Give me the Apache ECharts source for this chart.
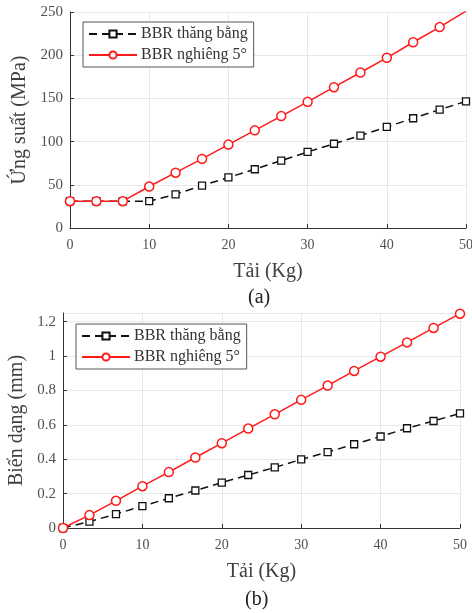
<!DOCTYPE html>
<html><head><meta charset="utf-8">
<script src="https://cdn.jsdelivr.net/npm/echarts@6/dist/echarts.min.js"></script>
<style>html,body{margin:0;padding:0;background:#fff}#c{width:472px;height:613px}</style>
</head><body><div id="c"></div>
<script>
const loads = [0, 3.33, 6.67, 10, 13.33, 16.67, 20, 23.33, 26.67, 30, 33.33, 36.67, 40, 43.33, 46.67, 50];
const stressFlat = [31, 31, 31, 31, 39, 49, 58.5, 68, 78, 88, 97.5, 107, 117, 127, 137, 146.6];
const stressTilt = [31, 31, 31, 48, 64, 80, 96.5, 113, 129.5, 146, 163, 180, 197, 215, 232.5, 251];
const deformFlat = [0, 0.037, 0.081, 0.127, 0.173, 0.218, 0.264, 0.308, 0.352, 0.399, 0.441, 0.487, 0.532, 0.58, 0.622, 0.666];
const deformTilt = [0, 0.075, 0.158, 0.243, 0.325, 0.41, 0.493, 0.578, 0.661, 0.745, 0.828, 0.913, 0.996, 1.079, 1.163, 1.246];
const nameFlat = 'BBR thăng bằng';
const nameTilt = 'BBR nghiêng 5°';

const font = 'Liberation Serif';
const pair = (xs, ys) => xs.map((x, i) => [x, ys[i]]);
const tickColor = '#505050';

function xAxis(gi) {
  return {
    gridIndex: gi, type: 'value', min: 0, max: 50, interval: 10,
    name: 'Tải (Kg)', nameLocation: 'middle', nameGap: 34,
    nameTextStyle: { fontFamily: font, fontSize: 20, color: '#404040' },
    axisLine: { show: true, lineStyle: { color: '#333', width: 1 } },
    axisTick: { show: true, inside: true, length: 4, lineStyle: { color: '#333' } },
    axisLabel: { fontFamily: font, fontSize: 14, color: tickColor, margin: 10 },
    splitLine: { show: true, lineStyle: { color: '#e8e8e8', width: 1 } }
  };
}
function yAxis(gi, opts) {
  return Object.assign({
    gridIndex: gi, type: 'value', nameLocation: 'middle', nameRotate: 90,
    nameTextStyle: { fontFamily: font, fontSize: 20, color: '#404040' },
    axisLine: { show: true, lineStyle: { color: '#333', width: 1 } },
    axisTick: { show: true, inside: true, length: 4, lineStyle: { color: '#333' } },
    axisLabel: { fontFamily: font, fontSize: 15, color: tickColor, margin: 7 },
    splitLine: { show: true, lineStyle: { color: '#e8e8e8', width: 1 } }
  }, opts);
}
function flatSeries(gi, ys) {
  return {
    name: nameFlat, type: 'line', xAxisIndex: gi, yAxisIndex: gi,
    data: pair(loads, ys), symbol: 'rect', symbolSize: 7, showSymbol: true,
    lineStyle: { color: '#111', width: 1.5, type: [8, 5] },
    itemStyle: { color: '#fff', borderColor: '#111', borderWidth: 1.3 },
    color: '#111', z: 3, animation: false
  };
}
function tiltSeries(gi, ys) {
  return {
    name: nameTilt, type: 'line', xAxisIndex: gi, yAxisIndex: gi,
    data: pair(loads, ys), symbol: 'circle', symbolSize: 9, showSymbol: true,
    lineStyle: { color: '#ff1a1a', width: 1.5 },
    itemStyle: { color: '#fff', borderColor: '#ff1a1a', borderWidth: 1.5 },
    color: '#ff1a1a', z: 4, animation: false
  };
}
function legend(left, top) {
  return {
    left: left, top: top, orient: 'vertical', itemWidth: 48, itemHeight: 9, itemGap: 5,
    padding: [4, 6, 4, 5], borderColor: '#555', borderWidth: 1, backgroundColor: '#fff',
    textStyle: { fontFamily: font, fontSize: 16, color: '#333', padding: [0, 0, 0, -1] },
    data: [nameFlat, nameTilt]
  };
}

const chart = echarts.init(document.getElementById('c'), null, { renderer: 'canvas' });
chart.setOption({
  animation: false,
  backgroundColor: '#fff',
  grid: [
    { left: 70, right: 6, top: 12, height: 216, outerBoundsMode: 'none', containLabel: false },
    { left: 63, right: 12, top: 313, height: 215, outerBoundsMode: 'none', containLabel: false }
  ],
  legend: [legend(83, 22), legend(76, 324)],
  title: [
    { text: '(a)', left: 243, top: 283, textStyle: { fontFamily: font, fontSize: 20, fontWeight: 'normal', color: '#222' } },
    { text: '(b)', left: 240, top: 585, textStyle: { fontFamily: font, fontSize: 20, fontWeight: 'normal', color: '#222' } }
  ],
  xAxis: [xAxis(0), xAxis(1)],
  yAxis: [
    yAxis(0, { min: 0, max: 250, interval: 50, name: 'Ứng suất (MPa)', nameGap: 39 }),
    yAxis(1, { min: 0, max: 1.25, interval: 0.2, name: 'Biến dạng (mm)', nameGap: 33,
      axisLabel: { fontFamily: font, fontSize: 15, color: tickColor, margin: 7, showMaxLabel: false } })
  ],
  series: [
    flatSeries(0, stressFlat), tiltSeries(0, stressTilt),
    flatSeries(1, deformFlat), tiltSeries(1, deformTilt)
  ]
});
</script>
</body></html>
